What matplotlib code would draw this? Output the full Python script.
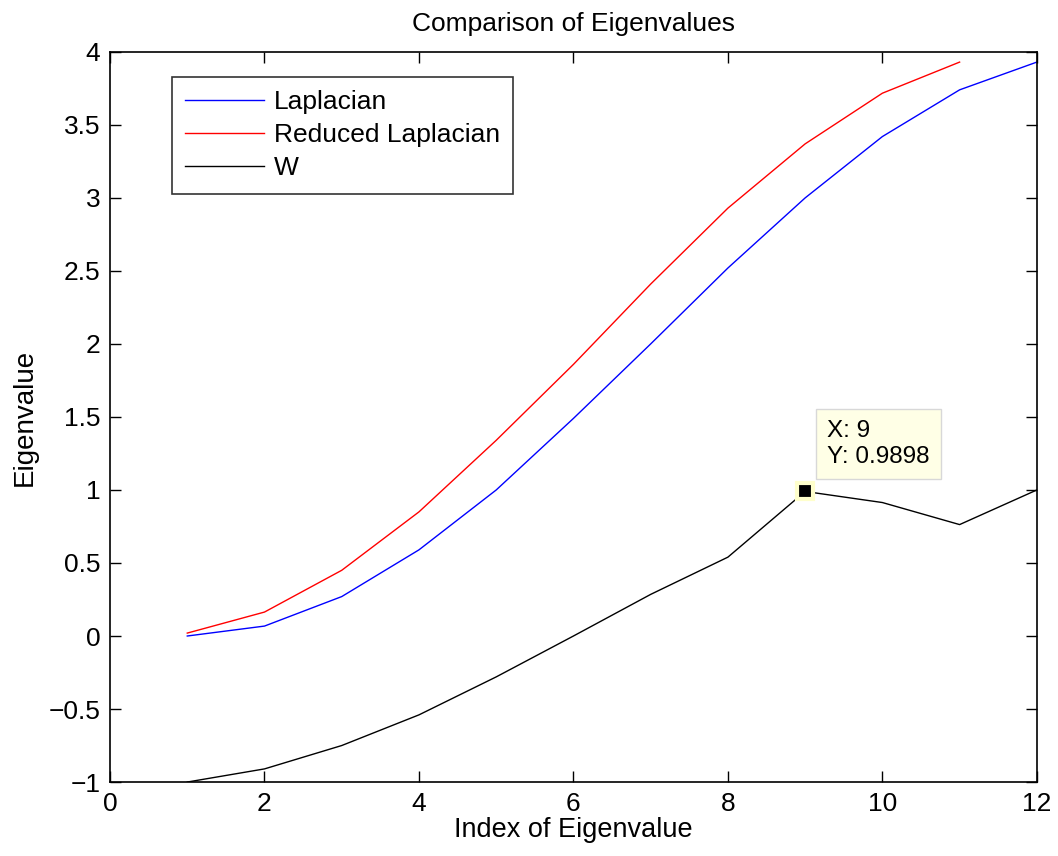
import numpy as np
import matplotlib.pyplot as plt

plt.rcParams['font.family'] = ['Liberation Sans', 'DejaVu Sans']

# --------------------------
# DATA
# --------------------------
idx_lap = [1, 2, 3, 4, 5, 6, 7, 8, 9, 10, 11, 12]
laplacian = [0.0, 0.068, 0.27, 0.59, 1.0, 1.49, 2.0, 2.52, 3.0, 3.42, 3.74, 3.93]

idx_red = [1, 2, 3, 4, 5, 6, 7, 8, 9, 10, 11]
reduced = [0.02, 0.164, 0.45, 0.85, 1.34, 1.86, 2.41, 2.93, 3.37, 3.717, 3.93]

idx_w = [1, 2, 3, 4, 5, 6, 7, 8, 9, 10, 11, 12]
w_vals = [-1.0, -0.91, -0.75, -0.54, -0.28, 0.0, 0.285, 0.54, 0.9898, 0.914, 0.763, 1.0]

tip_x, tip_y = 9, 0.9898

# --------------------------
# PLOT
# --------------------------
fig = plt.figure(figsize=(10.58, 8.56), dpi=100)
ax = fig.add_axes([0.104, 0.0864, 0.876, 0.853])

ax.plot(idx_lap, laplacian, color='blue', lw=1.0, label='Laplacian')
ax.plot(idx_red, reduced, color='red', lw=1.0, label='Reduced Laplacian')
ax.plot(idx_w, w_vals, color='black', lw=1.0, label='W')

# data tip
ax.plot([tip_x], [tip_y], marker='s', ms=11, color='black',
        markeredgecolor='#ffffcc', markeredgewidth=3, zorder=5)
ax.annotate(f'X: {tip_x}\nY: {tip_y}', xy=(tip_x, tip_y),
            xytext=(16, 17), textcoords='offset points',
            fontsize=17.5, va='bottom', ha='left', linespacing=1.25,
            bbox=dict(boxstyle='square,pad=0.45', fc='#ffffe6', ec='#d8d8d8', lw=1))

ax.set_xlim(0, 12)
ax.set_ylim(-1, 4)
ax.set_xticks(np.arange(0, 13, 2))
ax.set_yticks(np.arange(-1, 4.01, 0.5))
ax.set_yticklabels(['\u22121', '\u22120.5', '0', '0.5', '1', '1.5', '2', '2.5', '3', '3.5', '4'])

ax.tick_params(direction='in', top=True, right=True, length=8, width=1,
               labelsize=19, pad=7)
for s in ax.spines.values():
    s.set_linewidth(1.2)

ax.set_title('Comparison of Eigenvalues', fontsize=19, pad=15)
ax.set_xlabel('Index of Eigenvalue', fontsize=19.5, labelpad=1)
ax.set_ylabel('Eigenvalue', fontsize=20, labelpad=8)

leg = ax.legend(loc='upper left', bbox_to_anchor=(0.067, 0.966), fontsize=19,
                frameon=True, fancybox=False, edgecolor='black',
                handlelength=3.0, borderpad=0.5, labelspacing=0.35,
                handletextpad=0.35, borderaxespad=0)
leg.get_frame().set_linewidth(1.2)

fig.savefig('out.png', dpi=100)
